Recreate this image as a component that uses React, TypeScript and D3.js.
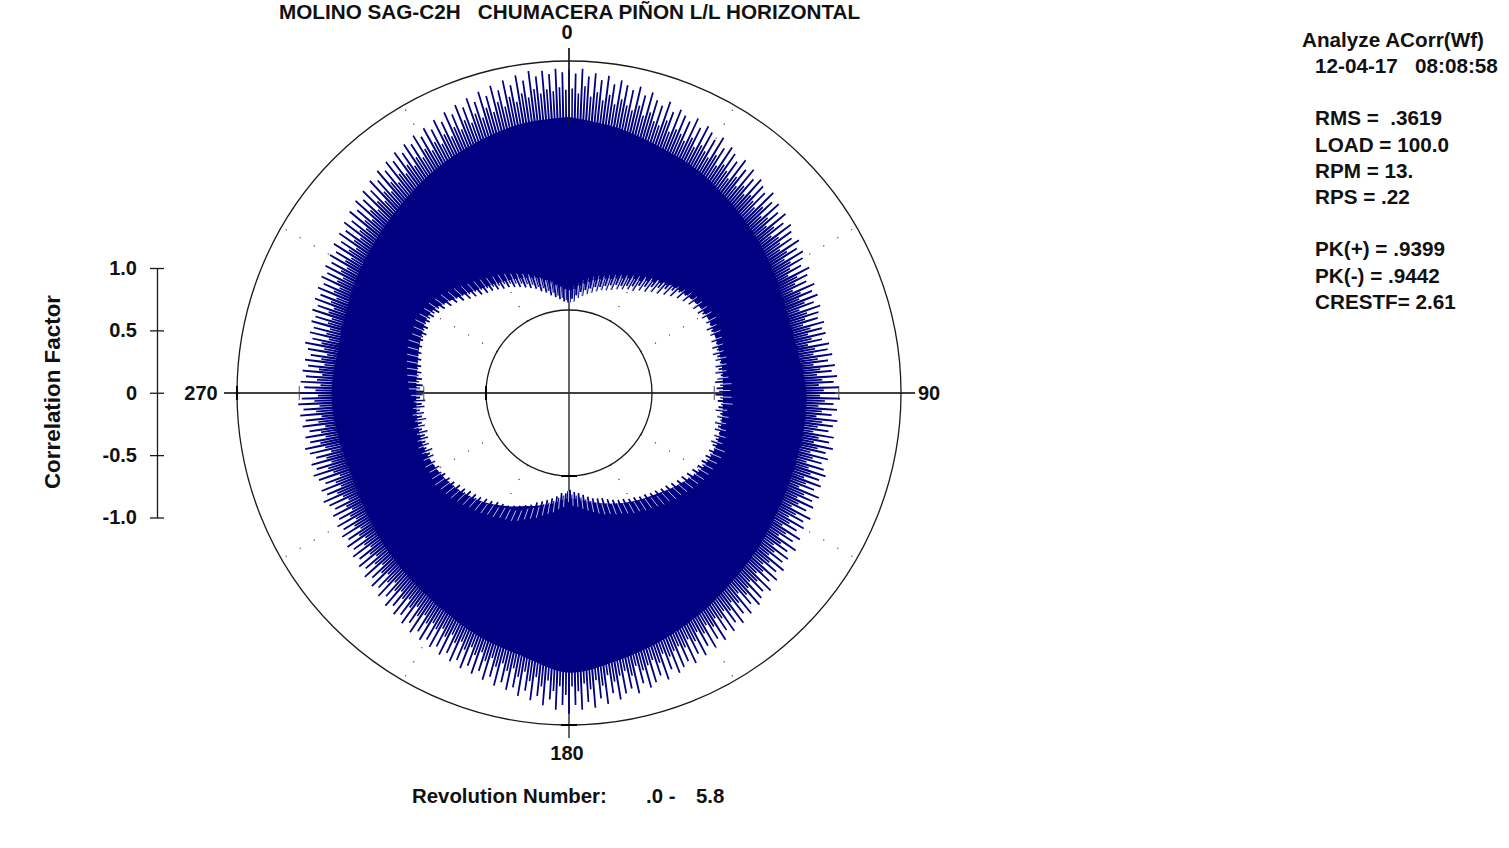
import React, { useEffect, useRef } from "react";
import * as d3 from "d3";

// correlation factor at each positive peak, one every 1.2 degrees clockwise from the top
const peaks = [
  .93,.90,.94,.88,.91,.86,.90,.84,.88,.85,.82,.86,.80,.84,.79,.76,.81,.74,.78,.75,.72,.77,.71,.75,.72,
  .68,.73,.66,.70,.67,.63,.68,.62,.66,.60,.64,.61,.58,.63,.57,.60,.55,.59,.53,.57,.54,.51,.55,.50,.53,
  .50,.46,.51,.47,.44,.49,.45,.48,.43,.47,.44,.42,.46,.43,.45,.41,.46,.44,.47,.43,.48,.45,.49,.46,.50,
  .47,.51,.46,.49,.45,.50,.47,.44,.49,.46,.50,.45,.48,.44,.47,.50,.46,.49,.45,.51,.47,.50,.46,.52,.48,
  .51,.47,.53,.49,.55,.50,.54,.52,.57,.53,.58,.54,.60,.56,.59,.62,.57,.63,.59,.65,.61,.66,.62,.68,.64,
  .69,.65,.71,.67,.73,.69,.72,.75,.70,.77,.72,.76,.79,.74,.81,.76,.79,.83,.77,.85,.80,.87,.82,.88,.84,
  .91,.84,.88,.80,.85,.78,.82,.75,.80,.74,.77,.72,.76,.70,.74,.68,.72,.67,.71,.66,.69,.64,.68,.63,.66,
  .62,.65,.60,.64,.58,.62,.57,.60,.55,.59,.53,.57,.52,.55,.50,.54,.49,.52,.48,.51,.47,.50,.46,.49,.45,
  .48,.44,.47,.43,.46,.49,.44,.47,.42,.46,.49,.45,.48,.43,.47,.50,.45,.48,.44,.49,.46,.50,.47,.51,.48,
  .50,.46,.49,.45,.48,.44,.47,.43,.46,.49,.44,.47,.45,.48,.46,.50,.47,.51,.48,.52,.49,.53,.50,.54,.51,
  .55,.52,.57,.53,.58,.55,.60,.56,.62,.58,.64,.60,.65,.61,.67,.63,.69,.65,.70,.67,.72,.68,.73,.70,.75,
  .71,.76,.72,.78,.74,.80,.76,.82,.78,.84,.79,.86,.81,.88,.83,.90,.85,.92,.87,.94,.89,.93,.90,.94,.91,
];

// negative peaks, between the positive ones
const troughs = [
  -.94,-.91,-.93,-.88,-.90,-.85,-.88,-.83,-.86,-.81,-.84,-.79,-.82,-.78,-.80,-.76,-.79,-.74,-.77,-.72,-.75,-.71,-.73,-.69,-.71,
  -.67,-.70,-.64,-.67,-.62,-.65,-.59,-.62,-.56,-.60,-.53,-.57,-.50,-.54,-.47,-.51,-.45,-.49,-.43,-.47,-.42,-.46,-.41,-.45,-.42,
  -.44,-.40,-.43,-.41,-.45,-.42,-.44,-.40,-.45,-.42,-.46,-.43,-.47,-.44,-.46,-.43,-.47,-.45,-.48,-.44,-.47,-.49,-.45,-.48,-.46,
  -.49,-.45,-.47,-.44,-.46,-.48,-.44,-.46,-.43,-.47,-.44,-.46,-.42,-.45,-.43,-.46,-.44,-.42,-.45,-.43,-.46,-.44,-.47,-.45,-.48,
  -.46,-.50,-.47,-.52,-.49,-.54,-.50,-.55,-.52,-.57,-.54,-.59,-.55,-.60,-.57,-.62,-.58,-.63,-.60,-.65,-.62,-.66,-.63,-.68,-.65,
  -.69,-.66,-.71,-.68,-.72,-.70,-.74,-.71,-.76,-.73,-.78,-.74,-.79,-.76,-.80,-.78,-.82,-.80,-.84,-.82,-.86,-.84,-.87,-.85,-.89,
  -.88,-.86,-.84,-.86,-.82,-.83,-.79,-.81,-.77,-.79,-.75,-.77,-.72,-.75,-.70,-.72,-.68,-.70,-.65,-.68,-.63,-.66,-.62,-.64,-.61,
  -.63,-.59,-.62,-.58,-.60,-.56,-.59,-.55,-.57,-.54,-.56,-.52,-.55,-.51,-.53,-.49,-.52,-.48,-.50,-.47,-.49,-.45,-.48,-.46,-.44,
  -.47,-.44,-.46,-.43,-.47,-.45,-.48,-.44,-.47,-.45,-.48,-.46,-.49,-.45,-.48,-.46,-.50,-.47,-.49,-.46,-.50,-.48,-.51,-.47,-.49,
  -.50,-.47,-.49,-.46,-.48,-.45,-.47,-.44,-.46,-.43,-.45,-.42,-.44,-.41,-.43,-.40,-.42,-.41,-.43,-.40,-.42,-.39,-.41,-.40,-.42,
  -.41,-.44,-.42,-.46,-.44,-.49,-.46,-.51,-.49,-.54,-.51,-.57,-.54,-.59,-.56,-.61,-.58,-.63,-.60,-.64,-.62,-.66,-.64,-.68,-.65,
  -.69,-.67,-.71,-.69,-.73,-.71,-.75,-.73,-.77,-.75,-.79,-.78,-.82,-.80,-.84,-.83,-.87,-.85,-.89,-.88,-.91,-.90,-.93,-.92,-.94,
];

// smaller swings of the later revolutions, sitting between the big spikes
const peaks2 = [
  .78,.74,.80,.72,.76,.70,.75,.68,.73,.69,.66,.71,.64,.68,.62,.60,.66,.58,.62,.60,.56,.61,.55,.59,.56,
  .53,.58,.51,.55,.52,.48,.53,.47,.51,.46,.49,.47,.44,.49,.43,.46,.41,.45,.39,.43,.41,.38,.42,.37,.40,
  .37,.33,.39,.35,.31,.36,.33,.36,.30,.35,.32,.29,.34,.31,.33,.29,.34,.32,.35,.31,.36,.33,.37,.34,.38,
  .35,.39,.34,.37,.33,.38,.35,.32,.37,.34,.38,.33,.36,.32,.35,.38,.34,.37,.33,.39,.35,.38,.34,.40,.36,
  .39,.35,.41,.37,.42,.38,.42,.40,.44,.41,.45,.42,.47,.43,.46,.49,.44,.50,.46,.51,.48,.52,.49,.54,.50,
  .55,.51,.57,.53,.58,.55,.57,.60,.56,.62,.58,.61,.64,.59,.66,.61,.64,.68,.62,.70,.65,.72,.67,.73,.69,
  .76,.69,.73,.65,.70,.63,.67,.60,.65,.59,.62,.57,.61,.55,.59,.53,.57,.52,.56,.51,.54,.49,.53,.48,.51,
  .48,.51,.46,.50,.44,.48,.43,.46,.42,.45,.40,.44,.39,.42,.37,.41,.36,.39,.35,.38,.34,.37,.33,.36,.32,
  .35,.31,.34,.30,.33,.36,.31,.34,.29,.33,.36,.32,.35,.30,.34,.37,.32,.35,.31,.36,.33,.37,.34,.38,.35,
  .37,.33,.36,.32,.35,.31,.34,.30,.33,.36,.31,.34,.32,.35,.33,.37,.34,.38,.35,.39,.36,.40,.37,.41,.38,
  .42,.39,.44,.40,.45,.42,.46,.43,.48,.44,.50,.46,.51,.47,.53,.49,.55,.51,.56,.53,.58,.54,.59,.56,.61,
  .57,.62,.58,.64,.60,.66,.62,.68,.64,.70,.65,.72,.67,.74,.69,.76,.71,.77,.73,.79,.75,.78,.76,.79,.77,
];

const troughs2 = [
  -.84,-.80,-.83,-.78,-.80,-.75,-.78,-.73,-.76,-.71,-.74,-.69,-.72,-.68,-.70,-.66,-.69,-.64,-.67,-.62,-.65,-.61,-.63,-.59,-.61,
  -.57,-.60,-.54,-.57,-.52,-.55,-.49,-.52,-.46,-.50,-.44,-.47,-.41,-.44,-.38,-.42,-.36,-.40,-.35,-.38,-.33,-.37,-.32,-.36,-.33,
  -.35,-.31,-.34,-.32,-.36,-.33,-.35,-.31,-.36,-.33,-.37,-.34,-.38,-.35,-.37,-.34,-.38,-.36,-.39,-.35,-.38,-.40,-.36,-.39,-.37,
  -.40,-.36,-.38,-.35,-.37,-.39,-.35,-.37,-.34,-.38,-.35,-.37,-.33,-.36,-.34,-.37,-.35,-.33,-.36,-.34,-.37,-.35,-.38,-.36,-.39,
  -.37,-.41,-.38,-.43,-.40,-.45,-.41,-.46,-.43,-.48,-.45,-.50,-.46,-.51,-.48,-.53,-.49,-.54,-.51,-.56,-.53,-.57,-.54,-.59,-.56,
  -.60,-.57,-.62,-.59,-.63,-.61,-.65,-.62,-.67,-.64,-.69,-.65,-.70,-.67,-.71,-.69,-.73,-.71,-.75,-.73,-.77,-.75,-.78,-.76,-.80,
  -.79,-.77,-.75,-.77,-.73,-.74,-.70,-.72,-.68,-.70,-.66,-.68,-.63,-.66,-.61,-.63,-.59,-.61,-.56,-.59,-.54,-.57,-.53,-.55,-.52,
  -.54,-.50,-.53,-.49,-.51,-.47,-.50,-.46,-.48,-.45,-.47,-.43,-.46,-.42,-.44,-.40,-.43,-.39,-.41,-.38,-.40,-.36,-.39,-.37,-.35,
  -.38,-.35,-.37,-.34,-.38,-.36,-.39,-.35,-.38,-.36,-.39,-.37,-.40,-.36,-.39,-.37,-.41,-.38,-.40,-.37,-.41,-.39,-.42,-.38,-.40,
  -.41,-.38,-.40,-.37,-.39,-.36,-.38,-.35,-.37,-.34,-.36,-.33,-.35,-.32,-.34,-.31,-.33,-.32,-.34,-.31,-.33,-.30,-.32,-.31,-.33,
  -.32,-.35,-.33,-.37,-.35,-.40,-.37,-.42,-.40,-.45,-.42,-.48,-.45,-.50,-.47,-.52,-.49,-.54,-.51,-.55,-.53,-.57,-.55,-.59,-.56,
  -.60,-.58,-.62,-.60,-.64,-.62,-.66,-.64,-.68,-.66,-.70,-.69,-.73,-.71,-.75,-.74,-.78,-.76,-.80,-.79,-.82,-.81,-.84,-.83,-.85,
];

// limits of the solid band, every 10 degrees
const coreHigh = [
  .55,.50,.44,.40,.34,.29,.24,.20,.20,.24,.24,.24,.26,.30,.34,.40,.46,.52,
  .58,.48,.42,.35,.30,.26,.22,.20,.22,.24,.22,.24,.28,.32,.37,.43,.48,.53,
];
const coreLow = [
  -.80,-.72,-.66,-.58,-.50,-.44,-.40,-.41,-.42,-.43,-.42,-.41,-.44,-.52,-.60,-.66,-.72,-.78,
  -.82,-.76,-.70,-.62,-.54,-.48,-.44,-.42,-.43,-.44,-.43,-.40,-.38,-.48,-.57,-.63,-.68,-.74,
];

const axisTicks = [1, 0.5, 0, -0.5, -1];
const axisTickLabels = ["1.0", "0.5", "0", "-0.5", "-1.0"];
const spokeAngles = [30, 60, 120, 150, 210, 240, 300, 330];
const compassLabels = ["0", "90", "180", "270"];

const title = "MOLINO SAG-C2H   CHUMACERA PIÑON L/L HORIZONTAL";
const infoHead = ["Analyze ACorr(Wf)"];
const infoLines = [
  "12-04-17   08:08:58", "",
  "RMS =  .3619", "LOAD = 100.0", "RPM = 13.", "RPS = .22", "",
  "PK(+) = .9399", "PK(-) = .9442", "CRESTF= 2.61",
];

const NAVY = "#000080";
const INK = "#1a1a1a";
const FONT = "'Liberation Sans', Arial, sans-serif";

export default function App() {
  const ref = useRef<SVGSVGElement | null>(null);
  const width = 1509;
  const height = 848;

  useEffect(() => {
    const svg = d3.select(ref.current);
    svg.selectAll("*").remove();

    const cx = 569;
    const cy = 393;
    const r = d3.scaleLinear().domain([-1, 1]).range([83, 332]);
    const rad = (deg: number) => (deg * Math.PI) / 180;

    const label = (s: string, x: number, y: number, anchor = "start", size = 20.7) =>
      svg
        .append("text")
        .attr("x", x)
        .attr("y", y)
        .attr("text-anchor", anchor)
        .attr("font-family", FONT)
        .attr("font-weight", "bold")
        .attr("font-size", size)
        .attr("fill", "#111")
        .attr("xml:space", "preserve")
        .style("white-space", "pre")
        .text(s);

    label(title, 279, 18.5);

    const plot = svg.append("g").attr("transform", `translate(${cx},${cy})`);

    // crosshair
    plot.append("line").attr("x1", -345).attr("x2", 346).attr("stroke", "#000").attr("stroke-width", 1.5);
    plot.append("line").attr("y1", -345).attr("y2", 345).attr("stroke", "#333").attr("stroke-width", 1.5);

    // dotted spokes
    const spoke = d3.lineRadial<number>().angle((d) => d[0]).radius((d) => d[1]) as any;
    spokeAngles.forEach((a) => {
      plot
        .append("path")
        .attr("d", spoke([[rad(a), r(-1)], [rad(a), r(1)]]))
        .attr("fill", "none")
        .attr("stroke", "#444")
        .attr("stroke-width", 1.2)
        .attr("stroke-dasharray", "1.2 15");
    });

    // reference circles
    [-1, 1].forEach((v) => {
      plot
        .append("circle")
        .attr("r", r(v))
        .attr("fill", "none")
        .attr("stroke", INK)
        .attr("stroke-width", 1.3);
    });

    // ticks on the horizontal axis
    [-1, -0.5, 0.5, 1].forEach((v) => {
      const bold = Math.abs(v) === 1;
      [-1, 1].forEach((side) => {
        if (bold && side === 1) return;
        plot
          .append("line")
          .attr("x1", side * r(v))
          .attr("x2", side * r(v))
          .attr("y1", -7)
          .attr("y2", 7)
          .attr("stroke", bold ? "#000" : "#555")
          .attr("stroke-width", bold ? 2 : 1);
      });
    });
    [-1, 1].forEach((v) => {
      plot
        .append("line")
        .attr("x1", -8)
        .attr("x2", 8)
        .attr("y1", r(v))
        .attr("y2", r(v))
        .attr("stroke", "#000")
        .attr("stroke-width", 2);
    });

    // solid part of the band
    const band = d3
      .areaRadial<number>()
      .angle((_, i) => rad(i * 10))
      .innerRadius((_, i) => r(coreLow[i % coreLow.length]))
      .outerRadius((_, i) => r(coreHigh[i % coreHigh.length]))
      .curve(d3.curveCardinal);
    plot
      .append("path")
      .attr("d", band(d3.range(coreHigh.length + 1)))
      .attr("fill", NAVY);

    // the trace itself, swinging between positive and negative peaks
    const step = 360 / peaks.length;
    const traceLine = d3
      .lineRadial<[number, number]>()
      .angle((d) => d[0])
      .radius((d) => r(d[1]));
    const drawTrace = (hi: number[], lo: number[], offset: number, w: number) => {
      const trace: [number, number][] = hi.flatMap((p, i) => [
        [rad(i * step + offset), p] as [number, number],
        [rad(i * step + offset + step / 2), lo[i]] as [number, number],
      ]);
      plot
        .append("path")
        .attr("d", traceLine(trace))
        .attr("fill", "none")
        .attr("stroke", NAVY)
        .attr("stroke-width", w)
        .attr("stroke-linejoin", "bevel");
    };
    drawTrace(peaks2, troughs2, step / 2, 1.6);
    drawTrace(peaks, troughs, 0, 1.7);

    // pale gaps between the spikes along the inner edge
    const gaps = plot.append("g").attr("stroke", "#cfd4f5").attr("stroke-width", 0.9);
    troughs.forEach((lo, i) => {
      if (i % 2) return;
      const a = rad(i * step + step / 4);
      gaps
        .append("path")
        .attr("d", traceLine([[a, lo], [a, troughs2[i]]]));
    });

    // upper part of the vertical crosshair shows through the spikes
    plot.append("line").attr("y1", -345).attr("y2", -r(0.48)).attr("stroke", INK).attr("stroke-width", 1.2);

    // compass labels
    label(compassLabels[0], cx - 2, 39, "middle", 20);
    label(compassLabels[1], 929, 400, "middle", 20);
    label(compassLabels[2], cx - 2, 760, "middle", 20);
    label(compassLabels[3], 201, 400, "middle", 20);

    // correlation factor scale
    const y = d3.scaleLinear().domain([-1, 1]).range([517.5, 268]);
    const axis = svg
      .append("g")
      .attr("transform", "translate(157,0)")
      .call(
        d3
          .axisLeft(y)
          .tickValues(axisTicks)
          .tickSize(7)
          .tickSizeOuter(0)
          .tickPadding(13)
          .tickFormat((_, i) => axisTickLabels[i])
      );
    axis.select(".domain").attr("stroke", INK).attr("stroke-width", 1.3);
    axis.selectAll(".tick line").attr("x2", -7).attr("x1", 7).attr("stroke", INK).attr("stroke-width", 1.3);
    axis
      .selectAll(".tick text")
      .attr("font-family", FONT)
      .attr("font-weight", "bold")
      .attr("font-size", 20)
      .attr("fill", "#111");

    label("Correlation Factor", 0, 0, "middle", 22.4).attr("transform", "translate(60,392) rotate(-90)");

    label("Revolution Number:", 412, 803, "start", 20.4);
    label(".0 -", 646, 803, "start", 20.4);
    label("5.8", 696, 803, "start", 20.4);

    infoHead.forEach((s) => label(s, 1302, 47));
    infoLines.forEach((s, i) => {
      if (s) label(s, 1315, 73 + i * 26.2);
    });
  }, []);

  return (
    <svg
      ref={ref}
      width={width}
      height={height}
      style={{ position: "absolute", left: 0, top: 0, background: "#fff" }}
    />
  );
}
